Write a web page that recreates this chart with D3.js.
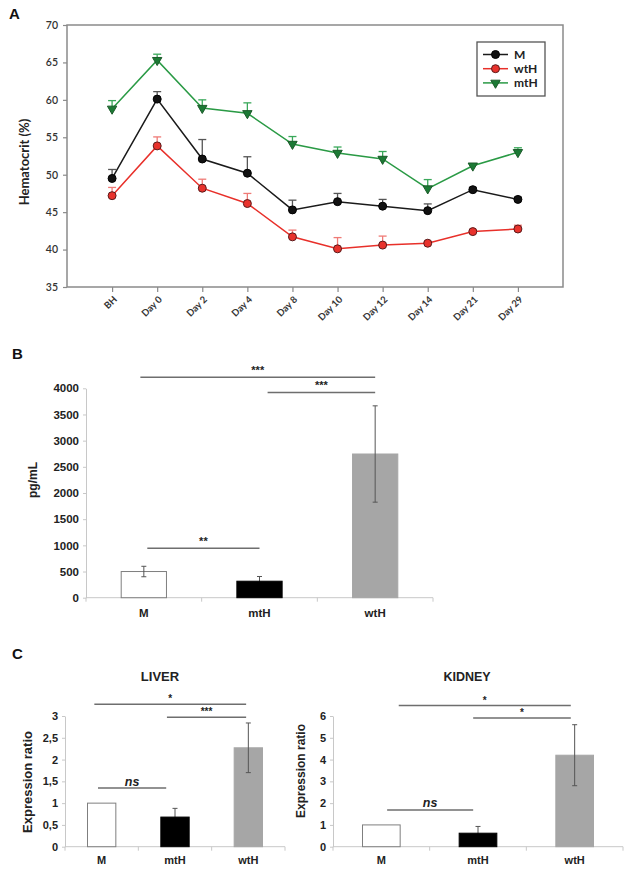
<!DOCTYPE html>
<html>
<head>
<meta charset="utf-8">
<script src="https://cdn.jsdelivr.net/npm/d3@7/dist/d3.min.js"></script>
<style>
  html, body { margin: 0; padding: 0; background: #fff; }
  svg { display: block; }
</style>
</head>
<body>
<svg id="chart" width="629" height="869"></svg>
<script>
// ---------- Panel A data ----------
const daysA = ["BH", "Day 0", "Day 2", "Day 4", "Day 8", "Day 10", "Day 12", "Day 14", "Day 21", "Day 29"];
const hctM      = [49.5, 60.1, 52.1, 50.2, 45.3, 46.4, 45.8, 45.2, 48.0, 46.7];
const hctMErr   = [1.2, 1.0, 2.6, 2.2, 1.3, 1.1, 0.9, 0.9, 0.3, 0.3];
const hctWtH    = [47.2, 53.85, 48.2, 46.15, 41.7, 40.1, 40.6, 40.85, 42.4, 42.75];
const hctWtHErr = [1.1, 1.2, 1.2, 1.35, 0.9, 1.5, 1.2, 0.2, 0.2, 0.5];
const hctMtH    = [58.8, 65.3, 58.9, 58.2, 54.1, 52.9, 52.1, 48.15, 51.2, 53.0];
const hctMtHErr = [1.1, 0.8, 1.1, 1.4, 1.0, 0.8, 1.0, 1.2, 0.2, 0.6];
const yTicksA = [35, 40, 45, 50, 55, 60, 65, 70];

// ---------- Panel B data ----------
const groups = ["M", "mtH", "wtH"];
const ilB    = [500, 315, 2745];
const ilBErr = [100, 90, 920];
const yTicksB = [0, 500, 1000, 1500, 2000, 2500, 3000, 3500, 4000];
// significance: [fromIndex, toIndex, level, label]
const sigB = [[-0.03, 2.0, 4210, "***"], [1.07, 2.0, 3920, "***"], [0.03, 1.0, 945, "**"]];

// ---------- Panel C data ----------
const liver    = [1.0, 0.68, 2.27];
const liverErr = [0, 0.2, 0.57];
const yTicksL  = [0, 0.5, 1, 1.5, 2, 2.5, 3];
const yTickLabL = ["0", "0,5", "1", "1,5", "2", "2,5", "3"];
const sigL = [[-0.1, 1.97, 3.27, "*"], [0.89, 1.97, 2.97, "***"], [-0.05, 0.88, 1.35, "ns"]];

const kidney    = [1.0, 0.62, 4.2];
const kidneyErr = [0, 0.31, 1.4];
const yTicksK   = [0, 1, 2, 3, 4, 5, 6];
const sigK = [[0.18, 1.96, 6.48, "*"], [0.95, 1.96, 5.91, "*"], [0.06, 0.95, 1.68, "ns"]];

const barFill   = ["#ffffff", "#000000", "#a6a6a6"];
const barStroke = ["#7f7f7f", "#000000", "#a6a6a6"];

const svg = d3.select("#chart");
const ARIAL = "'Liberation Sans', Arial, sans-serif";
const CAL = "Lato, 'Open Sans', sans-serif";

// ================= Panel A =================
(function () {
  const L = 67, R = 563, T = 25, B = 287;
  const x = d3.scalePoint().domain(daysA).range([L, R]).padding(1);
  const y = d3.scaleLinear().domain([35, 70]).range([B, T]);
  const g = svg.append("g");

  g.append("text").attr("x", 9).attr("y", 19).text("A")
    .attr("font-family", ARIAL).attr("font-weight", "bold").attr("font-size", 15).attr("fill", "#111");

  // frame
  g.append("rect").attr("x", L).attr("y", T).attr("width", R - L).attr("height", B - T)
    .attr("fill", "none").attr("stroke", "#8a8a8a").attr("stroke-width", 1.5);

  // y axis
  const ya = d3.axisLeft(y).tickValues(yTicksA).tickSize(4).tickPadding(5).tickSizeOuter(0);
  const yg = g.append("g").attr("transform", `translate(${L},0)`).call(ya);
  yg.select(".domain").remove();
  yg.selectAll("line").attr("stroke", "#8a8a8a").attr("stroke-width", 1.2);
  yg.selectAll("text").attr("font-family", CAL).attr("font-size", 10.5).attr("font-weight", 600).attr("fill", "#333");

  // x axis
  const xa = d3.axisBottom(x).tickSize(5).tickSizeOuter(0);
  const xg = g.append("g").attr("transform", `translate(0,${B})`).call(xa);
  xg.select(".domain").remove();
  xg.selectAll("line").attr("stroke", "#8a8a8a").attr("stroke-width", 1.2);
  xg.selectAll("text")
    .attr("font-family", CAL).attr("font-size", 9.5).attr("font-weight", "bold").attr("fill", "#333")
    .attr("text-anchor", "end").attr("dy", null).attr("y", null)
    .attr("transform", "translate(5,13) rotate(-45)");

  g.append("text").attr("transform", `translate(29,${(T + B) / 2 + 6}) rotate(-90)`)
    .attr("text-anchor", "middle").text("Hematocrit (%)")
    .attr("font-family", CAL).attr("font-weight", "bold").attr("font-size", 13).attr("fill", "#222");

  const series = [
    { name: "M",   vals: hctM,   err: hctMErr,   line: "#1a1a1a", fill: "#111111", stroke: "#000", errc: "#555", shape: "circle" },
    { name: "wtH", vals: hctWtH, err: hctWtHErr, line: "#e8302a", fill: "#e8322c", stroke: "#5a1a1a", errc: "#ef7a76", shape: "circle" },
    { name: "mtH", vals: hctMtH, err: hctMtHErr, line: "#2a9a45", fill: "#1c7a35", stroke: "#1c5a2a", errc: "#3aa85a", shape: "tri" }
  ];
  const tri = d3.symbol().type(d3.symbolTriangle).size(38);

  series.forEach(s => {
    const pts = daysA.map((d, i) => ({ d, v: s.vals[i], e: s.err[i] }));
    const eg = g.append("g");
    pts.forEach(p => {
      eg.append("line").attr("x1", x(p.d)).attr("x2", x(p.d)).attr("y1", y(p.v)).attr("y2", y(p.v + p.e))
        .attr("stroke", s.errc).attr("stroke-width", 1.3);
      eg.append("line").attr("x1", x(p.d) - 4).attr("x2", x(p.d) + 4).attr("y1", y(p.v + p.e)).attr("y2", y(p.v + p.e))
        .attr("stroke", s.errc).attr("stroke-width", 1.3);
    });
    g.append("path").datum(pts)
      .attr("d", d3.line().x(p => x(p.d)).y(p => y(p.v)))
      .attr("fill", "none").attr("stroke", s.line).attr("stroke-width", 1.5);
    if (s.shape === "circle") {
      g.selectAll(null).data(pts).enter().append("circle")
        .attr("cx", p => x(p.d)).attr("cy", p => y(p.v)).attr("r", 4)
        .attr("fill", s.fill).attr("stroke", s.stroke).attr("stroke-width", 1);
    } else {
      g.selectAll(null).data(pts).enter().append("path")
        .attr("d", tri)
        .attr("transform", p => `translate(${x(p.d)},${y(p.v)}) rotate(180)`)
        .attr("fill", s.fill).attr("stroke", s.stroke).attr("stroke-width", 1);
    }
  });

  // legend
  const lg = g.append("g");
  lg.append("rect").attr("x", 477).attr("y", 42).attr("width", 68).attr("height", 54)
    .attr("fill", "#fff").attr("stroke", "#555").attr("stroke-width", 1.3);
  series.forEach((s, i) => {
    const yy = 54.5 + i * 14.2;
    lg.append("line").attr("x1", 483).attr("x2", 508).attr("y1", yy).attr("y2", yy)
      .attr("stroke", s.line).attr("stroke-width", 1.5);
    if (s.shape === "circle") {
      lg.append("circle").attr("cx", 495.5).attr("cy", yy).attr("r", 4)
        .attr("fill", s.fill).attr("stroke", s.stroke).attr("stroke-width", 1);
    } else {
      lg.append("path").attr("d", tri).attr("transform", `translate(495.5,${yy}) rotate(180)`)
        .attr("fill", s.fill).attr("stroke", s.stroke).attr("stroke-width", 1);
    }
    lg.append("text").attr("x", 514).attr("y", yy + 4.3).text(s.name)
      .attr("font-family", CAL).attr("font-weight", "bold").attr("font-size", 12).attr("fill", "#222");
  });
})();

// ================= Bar panel helper =================
function barPanel(opt) {
  const g = svg.append("g");
  const x = d3.scaleBand().domain(groups).range([opt.L, opt.R]).paddingInner(0.6).paddingOuter(0.3);
  const y = d3.scaleLinear().domain(opt.yDomain).range([opt.B, opt.T]);
  const step = x.step();
  const cx = i => x(groups[0]) + x.bandwidth() / 2 + i * step;

  // y axis
  const ya = d3.axisLeft(y).tickValues(opt.yTicks).tickSize(3).tickPadding(4).tickSizeOuter(0)
    .tickFormat((d, i) => opt.yLabels ? opt.yLabels[i] : d);
  const yg = g.append("g").attr("transform", `translate(${opt.L},0)`).call(ya);
  yg.select(".domain").attr("stroke", "#c8c8c8");
  yg.selectAll("line").attr("stroke", "#c8c8c8");
  yg.selectAll("text").attr("font-family", ARIAL).attr("font-weight", "bold")
    .attr("font-size", opt.tickFont).attr("fill", "#222");

  // x axis: ticks at band boundaries
  const xg = g.append("g");
  xg.append("line").attr("x1", opt.L).attr("x2", opt.R).attr("y1", opt.B).attr("y2", opt.B)
    .attr("stroke", "#c8c8c8").attr("stroke-width", 1);
  const bounds = d3.range(groups.length + 1).map(i => opt.L + i * (opt.R - opt.L) / groups.length);
  bounds.forEach(bx => {
    xg.append("line").attr("x1", bx).attr("x2", bx).attr("y1", opt.B).attr("y2", opt.B + 4)
      .attr("stroke", "#c8c8c8");
  });
  groups.forEach((gname, i) => {
    xg.append("text").attr("x", cx(i)).attr("y", opt.B + opt.xLabDy).attr("text-anchor", "middle")
      .text(gname).attr("font-family", ARIAL).attr("font-weight", "bold")
      .attr("font-size", opt.xFont).attr("fill", "#222");
  });

  // error bars lying behind dark bars (only the upper part shows)
  const drawErr = (v, e, i, layer) => {
    const xc = cx(i);
    layer.append("line").attr("x1", xc).attr("x2", xc).attr("y1", y(v - e)).attr("y2", y(v + e))
      .attr("stroke", "#555").attr("stroke-width", 1);
    [v - e, v + e].forEach(t => {
      layer.append("line").attr("x1", xc - 2.5).attr("x2", xc + 2.5).attr("y1", y(t)).attr("y2", y(t))
        .attr("stroke", "#555").attr("stroke-width", 1);
    });
  };
  const back = g.append("g");
  opt.vals.forEach((v, i) => { if (opt.errs[i] && barFill[i] === "#000000") drawErr(v, opt.errs[i], i, back); });

  // bars
  g.selectAll(null).data(opt.vals).enter().append("rect")
    .attr("x", (d, i) => x(groups[i]) + 0.5).attr("width", x.bandwidth() - 1)
    .attr("y", d => y(d)).attr("height", d => opt.B - y(d))
    .attr("fill", (d, i) => barFill[i]).attr("stroke", (d, i) => barStroke[i]).attr("stroke-width", 1);

  const front = g.append("g");
  opt.vals.forEach((v, i) => { if (opt.errs[i] && barFill[i] !== "#000000") drawErr(v, opt.errs[i], i, front); });

  // significance
  opt.sig.forEach(([a, b, lvl, lab]) => {
    const yy = y(lvl);
    g.append("line").attr("x1", cx(a)).attr("x2", cx(b)).attr("y1", yy).attr("y2", yy)
      .attr("stroke", "#6e6e6e").attr("stroke-width", 1.5);
    const isNs = lab === "ns";
    g.append("text").attr("x", (cx(a) + cx(b)) / 2).attr("y", yy - (isNs ? opt.nsDy : opt.starDy))
      .attr("text-anchor", "middle").text(lab)
      .attr("font-family", ARIAL)
      .attr("font-style", isNs ? "italic" : "normal")
      .attr("font-weight", "bold")
      .attr("font-size", isNs ? opt.nsFont : opt.starFont).attr("fill", "#222");
  });

  // y label
  g.append("text").attr("transform", `translate(${opt.yLabX},${opt.yLabY}) rotate(-90)`)
    .attr("text-anchor", "middle").text(opt.yLabel)
    .attr("font-family", ARIAL).attr("font-weight", "bold").attr("font-size", opt.yLabFont).attr("fill", "#222");

  if (opt.title) {
    g.append("text").attr("x", opt.titleX).attr("y", opt.titleY).attr("text-anchor", "middle")
      .text(opt.title).attr("font-family", ARIAL).attr("font-weight", "bold")
      .attr("font-size", opt.titleFont).attr("fill", "#222");
  }
}

// ================= Panel B =================
svg.append("text").attr("x", 12).attr("y", 359).text("B")
  .attr("font-family", ARIAL).attr("font-weight", "bold").attr("font-size", 15).attr("fill", "#111");
barPanel({
  L: 86, R: 433, T: 388.3, B: 597.7, yDomain: [0, 4000], yTicks: yTicksB,
  vals: ilB, errs: ilBErr, sig: sigB,
  tickFont: 11.5, xFont: 11.5, xLabDy: 19, starFont: 11, starDy: 3, nsFont: 12, nsDy: 2,
  yLabel: "pg/mL", yLabX: 37, yLabY: 480, yLabFont: 12
});

// ================= Panel C =================
svg.append("text").attr("x", 12).attr("y", 659).text("C")
  .attr("font-family", ARIAL).attr("font-weight", "bold").attr("font-size", 15).attr("fill", "#111");
barPanel({
  L: 65, R: 285, T: 716, B: 846.7, yDomain: [0, 3], yTicks: yTicksL, yLabels: yTickLabL,
  vals: liver, errs: liverErr, sig: sigL,
  tickFont: 11, xFont: 11, xLabDy: 17, starFont: 10, starDy: 2, nsFont: 12.5, nsDy: 2,
  yLabel: "Expression ratio", yLabX: 32, yLabY: 782, yLabFont: 13,
  title: "LIVER", titleX: 160, titleY: 681, titleFont: 13
});
barPanel({
  L: 333, R: 623, T: 716, B: 846.7, yDomain: [0, 6], yTicks: yTicksK,
  vals: kidney, errs: kidneyErr, sig: sigK,
  tickFont: 11, xFont: 11, xLabDy: 17, starFont: 10, starDy: 2, nsFont: 12.5, nsDy: 3,
  yLabel: "Expression ratio", yLabX: 305, yLabY: 771, yLabFont: 12,
  title: "KIDNEY", titleX: 467, titleY: 681, titleFont: 12.5
});
</script>
</body>
</html>
